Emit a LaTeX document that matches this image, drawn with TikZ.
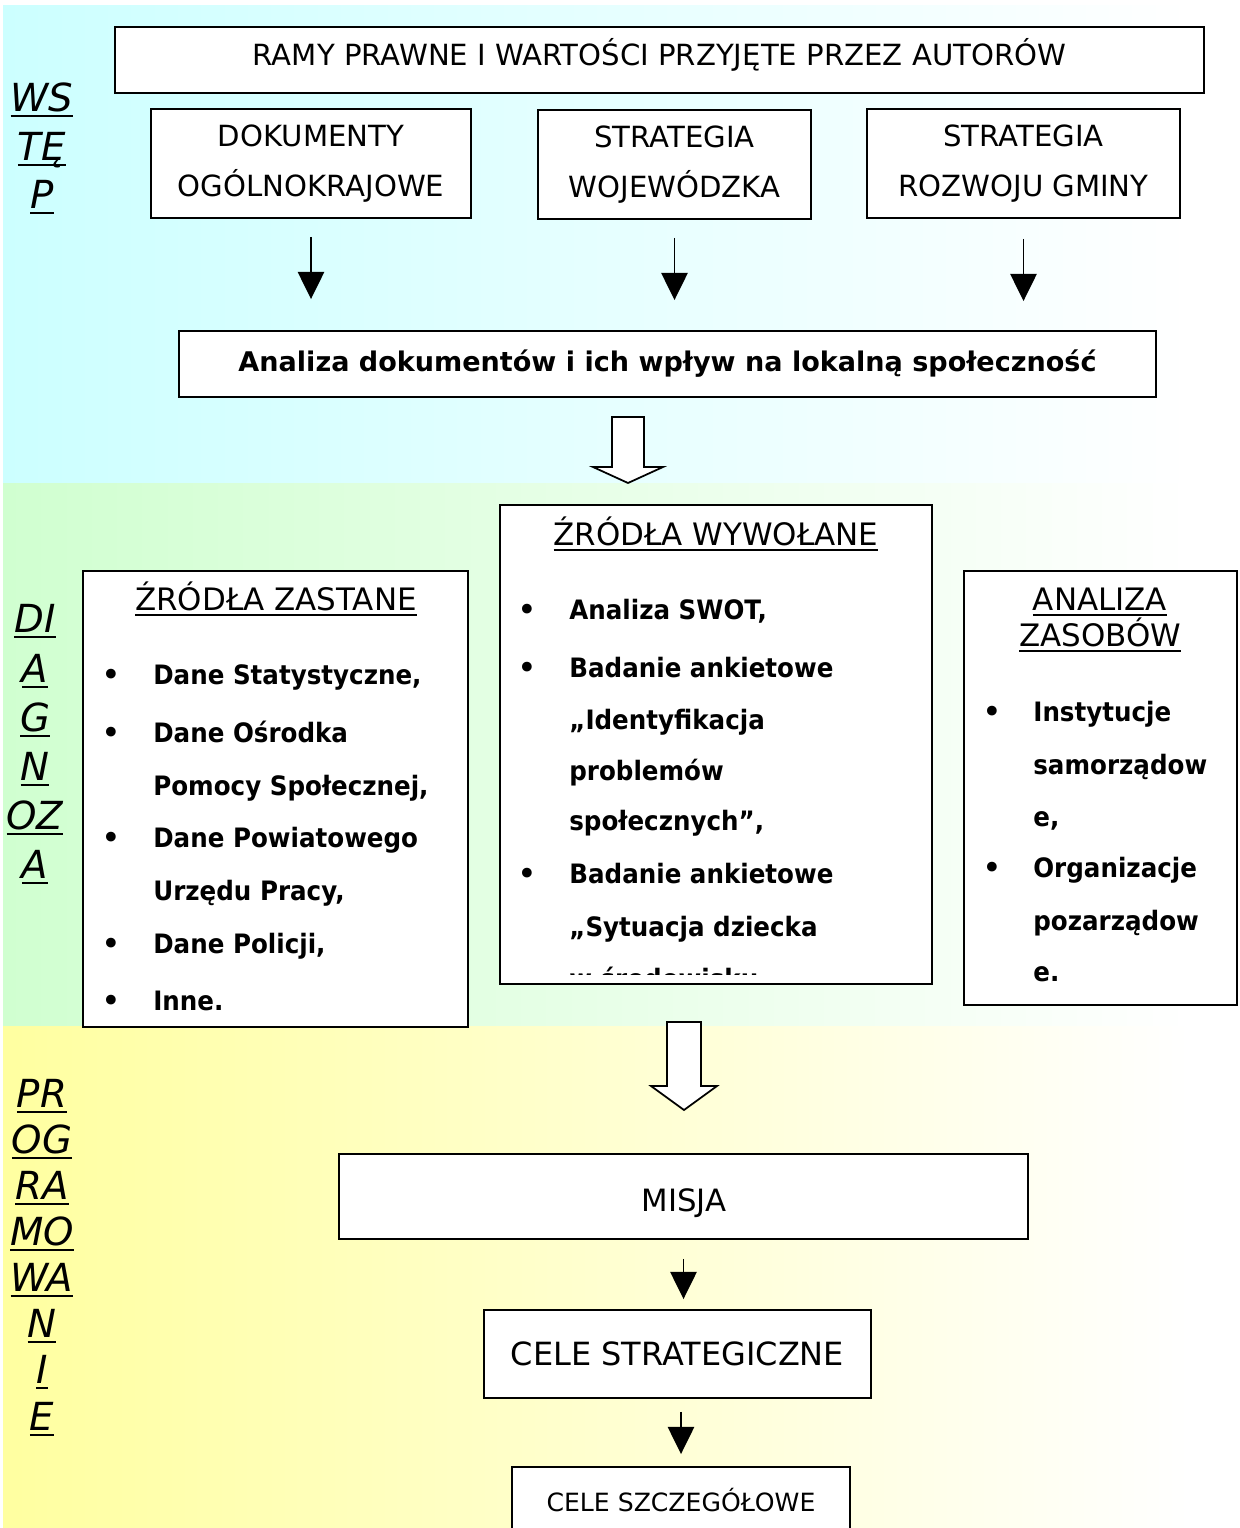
\documentclass[tikz,border=0pt]{standalone}
\usepackage{fontspec}
\setmainfont{DejaVu Sans}
\newfontfamily\itemfont[FakeStretch=0.92]{DejaVu Sans}
\usetikzlibrary{arrows.meta}
\usepackage{xcolor}
\definecolor{wstepbg}{HTML}{CCFFFF}
\definecolor{diagbg}{HTML}{D0FFD0}
\definecolor{progbg}{HTML}{FFFFA0}
\newcommand\ulin[1]{\setbox0\hbox{#1}\rlap{\vrule width\wd0 height-2.4pt depth3.4pt}\box0}
\tikzset{
	box/.style={draw, line width=1.1pt, fill=white, inner sep=0pt},
	boxtxt/.style={font=\fontsize{16.6}{28.5}\selectfont, align=center},
	item/.style={anchor=base west, inner sep=0pt, font=\itemfont\bfseries\fontsize{15.2}{18}\selectfont},
	bull/.style={anchor=base, inner sep=0pt, yshift=-1.6pt, font=\fontsize{19}{20}\selectfont},
	head/.style={anchor=base, inner sep=0pt, font=\fontsize{17.6}{21}\selectfont},
	side/.style={anchor=base, inner sep=0pt, font=\itshape\fontsize{22}{26}\selectfont},
	flow/.style={line width=1.1pt, -{Triangle[width=15pt,length=15.5pt]}},
	hollow/.style={draw, line width=1pt, fill=white, line join=miter}
}

\begin{document}
\begin{tikzpicture}[x=0.02cm, y=-0.02cm]
\clip (0,0) rectangle (1240,1528);
\fill[white] (0,0) rectangle (1240,1528);
% tla
\shade[left color=wstepbg, right color=white] (3,5) rectangle (1190,483);
\shade[left color=diagbg, right color=white] (3,483) rectangle (1190,1026);
\shade[left color=progbg, right color=white] (3,1026) rectangle (1190,1528);

% WSTEP
\node[side] (s1) at (42,111) {\ulin{WS}};
\node[side] (s2) at (42,160) {\ulin{TĘ}};
\node[side] (s3) at (42,208) {\ulin{P}};

\node[box, boxtxt, text height=12pt, text depth=5.7pt, minimum width=21.78cm, minimum height=1.32cm] (ramy) at (659.5,60) {RAMY PRAWNE I WARTOŚCI PRZYJĘTE PRZEZ AUTORÓW};
\node[box, boxtxt, minimum width=6.4cm, minimum height=2.18cm] (dok) at (311,163.5) {DOKUMENTY\\OGÓLNOKRAJOWE};
\node[box, boxtxt, minimum width=5.46cm, minimum height=2.18cm] (woj) at (674.5,164.5) {STRATEGIA\\WOJEWÓDZKA};
\node[box, boxtxt, minimum width=6.26cm, minimum height=2.18cm] (gmina) at (1023.5,163.5) {STRATEGIA\\ROZWOJU GMINY};
\node[box, minimum width=19.54cm, minimum height=1.32cm, font=\bfseries\fontsize{15.4}{18}\selectfont] (an) at (667.5,364) {Analiza dokumentów i ich wpływ na lokalną społeczność};

\draw[flow, shorten <=0.36cm, shorten >=0.62cm] (dok.south) -- (dok.south |- an.north);
\draw[flow, shorten <=0.36cm, shorten >=0.6cm] (woj.south) -- (woj.south |- an.north);
\draw[flow, shorten <=0.4cm, shorten >=0.58cm] (gmina.south) -- (gmina.south |- an.north);

\draw[hollow] (612,417) -- (644,417) -- (644,467) -- (663,467) -- (628,483) -- (593,467) -- (612,467) -- cycle;

% DIAGNOZA
\node[side] (d1) at (35,632) {\ulin{DI}};
\node[side] (d2) at (35,682) {\ulin{A}};
\node[side] (d3) at (35,731) {\ulin{G}};
\node[side] (d4) at (35,780) {\ulin{N}};
\node[side] (d5) at (35,829) {\ulin{OZ}};
\node[side] (d6) at (35,878) {\ulin{A}};

\node[box, minimum width=7.7cm, minimum height=9.12cm] (zast) at (275.5,799) {};
\node[head] (zast0) at (276,610) {\ulin{ŹRÓDŁA ZASTANE}};
\node[bull] at (111,684) {\textbullet};
\node[item] (zast1) at (153,684) {Dane Statystyczne,};
\node[bull] at (111,742) {\textbullet};
\node[item] (zast2) at (153,742) {Dane Ośrodka};
\node[item] (zast3) at (153,795) {Pomocy Społecznej,};
\node[bull] at (111,847) {\textbullet};
\node[item] (zast4) at (153,847) {Dane Powiatowego};
\node[item] (zast5) at (153,900) {Urzędu Pracy,};
\node[bull] at (111,953) {\textbullet};
\node[item] (zast6) at (153,953) {Dane Policji,};
\node[bull] at (111,1010) {\textbullet};
\node[item] (zast7) at (153,1010) {Inne.};

\node[box, minimum width=8.64cm, minimum height=9.58cm] (wyw) at (716,744.5) {};
\node[head] (wyw0) at (716,545) {\ulin{ŹRÓDŁA WYWOŁANE}};
\node[bull] at (527,619) {\textbullet};
\node[item] (wyw1) at (569,619) {Analiza SWOT,};
\node[bull] at (527,677) {\textbullet};
\node[item] (wyw2) at (569,677) {Badanie ankietowe};
\node[item] (wyw3) at (569,729) {„Identyfikacja};
\node[item] (wyw4) at (569,780) {problemów};
\node[item] (wyw5) at (569,830) {społecznych”,};
\node[bull] at (527,883) {\textbullet};
\node[item] (wyw6) at (569,883) {Badanie ankietowe};
\node[item] (wyw7) at (569,936) {„Sytuacja dziecka};
\begin{scope}
\clip (501,506) rectangle (931,974);
\node[item] (wyw8) at (569,988) {w środowisku};
\end{scope}

\node[box, minimum width=5.46cm, minimum height=8.68cm] (zas) at (1100.5,788) {};
\node[head] (zas0) at (1100,610) {\ulin{ANALIZA}};
\node[head] (zas00) at (1100,646) {\ulin{ZASOBÓW}};
\node[bull] at (992,721) {\textbullet};
\node[item] (zas1) at (1033,721) {Instytucje};
\node[item] (zas2) at (1033,774) {samorządow};
\node[item] (zas3) at (1033,826) {e,};
\node[bull] at (992,877) {\textbullet};
\node[item] (zas4) at (1033,877) {Organizacje};
\node[item] (zas5) at (1033,930) {pozarządow};
\node[item] (zas6) at (1033,981) {e.};

\draw[hollow] (667,1022) -- (701,1022) -- (701,1086) -- (717,1086) -- (684,1110) -- (651,1086) -- (667,1086) -- cycle;

% PROGRAMOWANIE
\node[side] (p1) at (42,1107) {\ulin{PR}};
\node[side] (p2) at (42,1153) {\ulin{OG}};
\node[side] (p3) at (42,1199) {\ulin{RA}};
\node[side] (p4) at (42,1245) {\ulin{MO}};
\node[side] (p5) at (42,1291) {\ulin{WA}};
\node[side] (p6) at (42,1337) {\ulin{N}};
\node[side] (p7) at (42,1383) {\ulin{I}};
\node[side] (p8) at (42,1430) {\ulin{E}};

\node[box, minimum width=13.78cm, minimum height=1.7cm] (misja) at (683.5,1196.5) {};
\node[anchor=base, inner sep=0pt, font=\fontsize{17.5}{21}\selectfont] (misja-t) at (684,1211) {MISJA};
\node[box, minimum width=7.74cm, minimum height=1.76cm, font=\fontsize{18.2}{22}\selectfont] (strat) at (677.5,1354) {CELE STRATEGICZNE};
\node[box, minimum width=6.76cm, minimum height=1.34cm, font=\fontsize{14.3}{17}\selectfont] (szcz) at (681,1500.5) {CELE SZCZEGÓŁOWE};

\draw[flow, shorten <=0.38cm, shorten >=0.2cm] (misja.south) -- (misja.south |- strat.north);
\draw[flow, shorten <=0.26cm, shorten >=0.24cm] (szcz.north |- strat.south) -- (szcz.north);
\end{tikzpicture}
\end{document}
